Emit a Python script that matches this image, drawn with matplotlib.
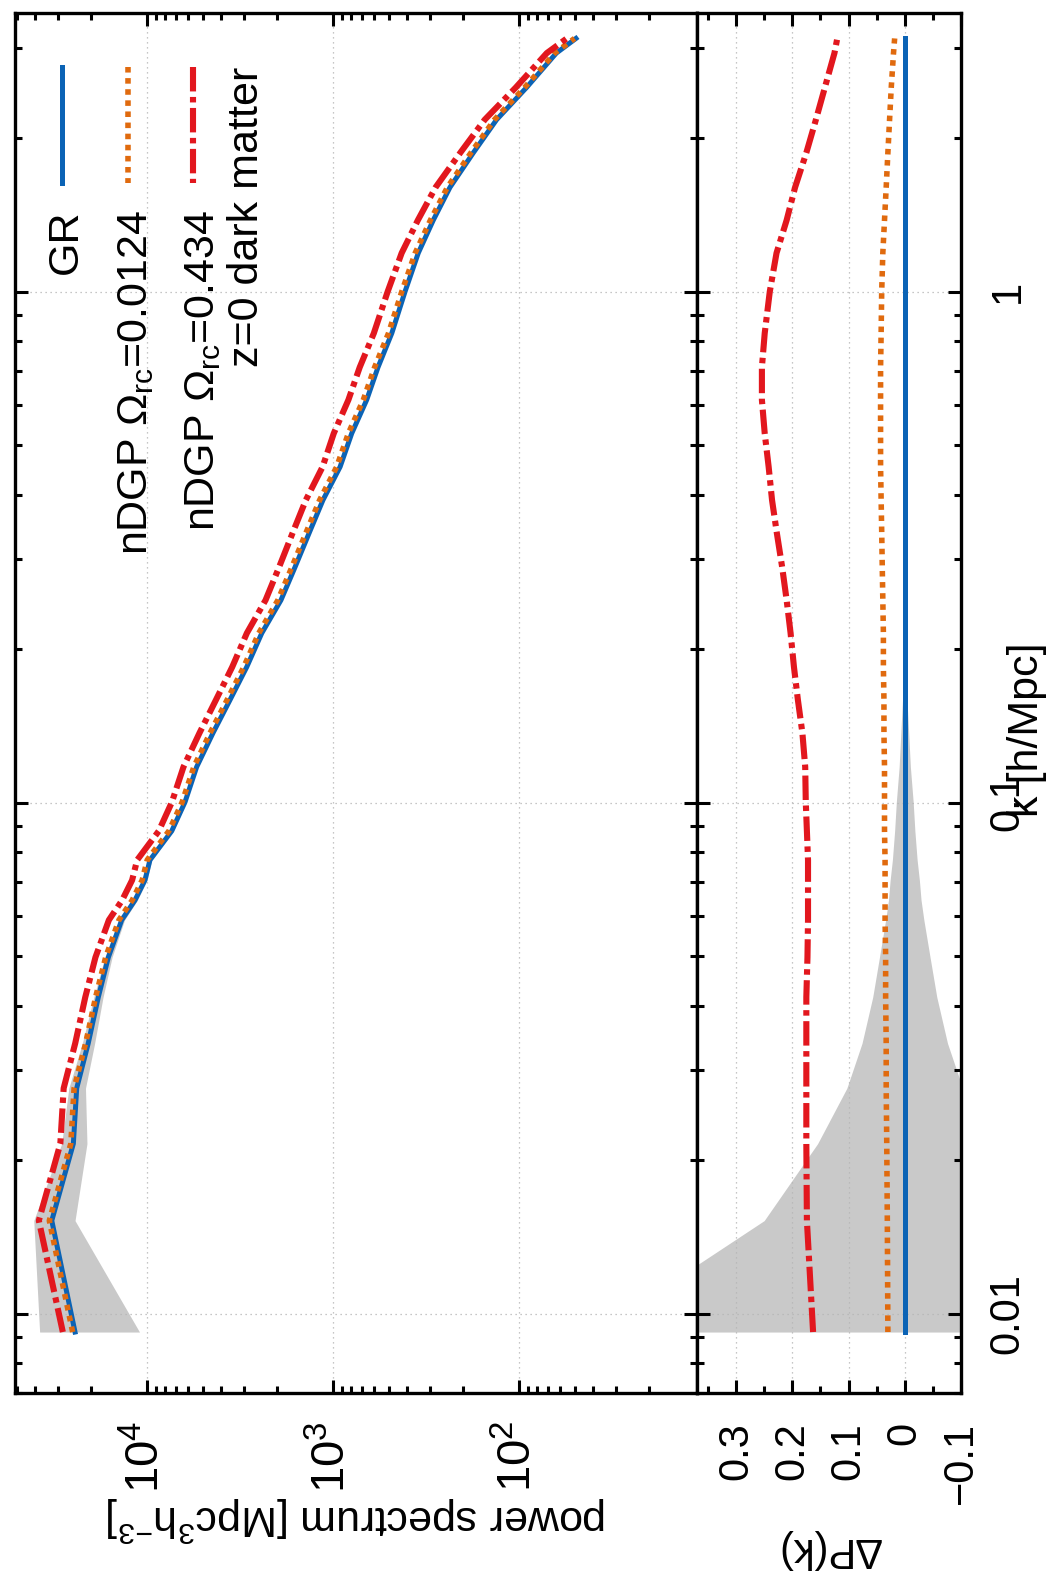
import matplotlib
matplotlib.use('Agg')
import matplotlib.pyplot as plt
from matplotlib.lines import Line2D
from matplotlib.ticker import LogLocator, MultipleLocator, NullFormatter, FuncFormatter, FixedLocator

plt.rcParams['font.family'] = ['Liberation Sans', 'DejaVu Sans']
plt.rcParams['mathtext.fontset'] = 'custom'
plt.rcParams['mathtext.rm'] = 'Liberation Sans'
plt.rcParams['mathtext.it'] = 'Liberation Sans:italic'
plt.rcParams['mathtext.bf'] = 'Liberation Sans:bold'

# k [h/Mpc]
k = [0.0092, 0.0152, 0.0215, 0.0276, 0.0338, 0.0416, 0.0498, 0.0589, 0.0644,
     0.0705, 0.0772, 0.0880, 0.1002, 0.1174, 0.1368, 0.1588, 0.1842, 0.2146,
     0.249, 0.289, 0.340, 0.391, 0.454, 0.528, 0.614, 0.711, 0.829, 1.00,
     1.19, 1.38, 1.60, 1.87, 2.17, 2.51, 2.93, 3.13]
# GR power spectrum
p_gr = [24380, 32510, 24890, 23880, 20700, 18280, 16140, 13680, 11610,
        10260, 9640, 7360, 6250, 5410, 4420, 3580, 2910, 2415,
        1905, 1600, 1330, 1132, 916, 793, 659, 573, 483, 410,
        348, 289, 235, 176, 132, 91, 63, 49.4]
# relative difference to GR
dp_weak = [0.030, 0.031, 0.032, 0.033, 0.033, 0.034, 0.034, 0.035, 0.035,
           0.035, 0.035, 0.036, 0.036, 0.036, 0.037, 0.037, 0.038, 0.038,
           0.039, 0.040, 0.041, 0.042, 0.043, 0.043, 0.043, 0.043, 0.042, 0.041,
           0.039, 0.036, 0.033, 0.030, 0.027, 0.024, 0.020, 0.018]
dp_strong = [0.163, 0.174, 0.175, 0.175, 0.175, 0.175, 0.173, 0.172, 0.172,
             0.172, 0.172, 0.174, 0.176, 0.177, 0.182, 0.190, 0.197, 0.203,
             0.210, 0.218, 0.228, 0.236, 0.242, 0.249, 0.254, 0.254, 0.249, 0.240,
             0.228, 0.210, 0.195, 0.175, 0.158, 0.142, 0.125, 0.120]
dp_gr = [0.0] * len(k)
# cosmic variance (relative)
sigma = [0.55, 0.25, 0.155, 0.103, 0.076, 0.057, 0.045, 0.034, 0.029,
         0.026, 0.022, 0.018, 0.015, 0.010, 0.007, 0.004, 0.002, 0.0,
         0, 0, 0, 0, 0, 0, 0, 0, 0, 0,
         0, 0, 0, 0, 0, 0, 0, 0]
dp_ticks = [0.3, 0.2, 0.1, 0.0, -0.1]

p_weak = [p * (1 + d) for p, d in zip(p_gr, dp_weak)]
p_strong = [p * (1 + d) for p, d in zip(p_gr, dp_strong)]
band_lo = [p * (1 - s) for p, s in zip(p_gr, sigma)]
band_hi = [p * (1 + s) for p, s in zip(p_gr, sigma)]
sig_neg = [-s for s in sigma]

C_GR = '#0b63b5'
C_W = '#e06a0e'
C_S = '#e2171e'
C_BAND = '#c9c9c9'
st_gr = dict(color=C_GR, lw=3.6, ls='-')
st_w = dict(color=C_W, lw=4.0, ls=(0, (1.0, 1.0)))
st_s = dict(color=C_S, lw=4.4, ls=(0, (4.0, 0.9, 0.9, 0.9)))

W, H = 1050, 1573
fig = plt.figure(figsize=(W / 100, H / 100), dpi=100)


def fx(px):
    return px / W


def fy(py):
    return 1 - py / H


ax_p = fig.add_axes([fx(15), fy(1393), fx(697) - fx(15), fy(13) - fy(1393)])
ax_r = fig.add_axes([fx(697), fy(1393), fx(961) - fx(697), fy(13) - fy(1393)], sharey=ax_p)

# power spectrum panel (rotated: k on vertical axis)
ax_p.fill_betweenx(k, band_lo, band_hi, color=C_BAND, lw=0, zorder=1)
ax_p.plot(p_gr, k, **st_gr, zorder=3)
ax_p.plot(p_weak, k, **st_w, zorder=4)
ax_p.plot(p_strong, k, **st_s, zorder=5)
ax_p.set_xscale('log')
ax_p.set_yscale('log')
ax_p.set_xlim(51260, 11.04)
ax_p.set_ylim(0.00699, 3.51)

# relative difference panel
ax_r.fill_betweenx(k, sig_neg, sigma, color=C_BAND, lw=0, zorder=1)
ax_r.plot(dp_gr, k, **st_gr, zorder=3)
ax_r.plot(dp_weak, k, **st_w, zorder=4)
ax_r.plot(dp_strong, k, **st_s, zorder=5)
ax_r.set_xlim(0.3694, -0.1)

ax_p.xaxis.set_major_locator(LogLocator(base=10))
ax_p.xaxis.set_minor_locator(LogLocator(base=10, subs=range(2, 10)))
ax_p.xaxis.set_minor_formatter(NullFormatter())
ax_p.yaxis.set_major_locator(LogLocator(base=10))
ax_p.yaxis.set_minor_locator(LogLocator(base=10, subs=range(2, 10)))
ax_p.yaxis.set_minor_formatter(NullFormatter())
ax_p.yaxis.set_major_formatter(FuncFormatter(lambda v, _: f'{v:g}'))

ax_r.xaxis.set_major_locator(FixedLocator(dp_ticks))
ax_r.xaxis.set_minor_locator(MultipleLocator(0.05))
ax_r.xaxis.set_major_formatter(FuncFormatter(
    lambda v, _: '0' if abs(v) < 1e-9 else f'{v:.1f}'.replace('-', '\u2212')))

for ax in (ax_p, ax_r):
    ax.set_axisbelow('line')
    ax.grid(True, which='major', color='#b4b4b4', ls=(0, (1, 3)), lw=0.9)
    for sp in ax.spines.values():
        sp.set_linewidth(2.4)
    ax.tick_params(which='both', direction='in', top=True, bottom=True,
                   left=True, right=True, width=2.2, colors='black')
    ax.tick_params(which='major', length=9.6)
    ax.tick_params(which='minor', length=4.8)
    ax.tick_params(axis='x', labelrotation=90, labelsize=30, pad=21)

ax_p.tick_params(axis='x', labelsize=34, pad=20)
ax_p.tick_params(axis='y', labelleft=False, labelright=False)
ax_r.tick_params(axis='y', labelleft=False, labelright=True, labelrotation=90,
                 labelsize=30, pad=19)
for lbl in ax_r.get_yticklabels():
    lbl.set_va('center')

# axis labels
fig.text(fx(357), fy(1519), 'power spectrum [Mpc$^3$h$^{-3}$]', rotation=180,
         ha='center', va='center', fontsize=31)
fig.text(fx(829), fy(1549), '\u0394P(k)', rotation=180,
         ha='center', va='center', fontsize=30)
fig.text(fx(1038), fy(730), 'k [h/Mpc]', rotation=90, rotation_mode='anchor',
         ha='center', va='baseline', fontsize=31)

# legend, drawn in the rotated frame
entries = [('GR', st_gr, 62, 77),
           (r'nDGP $\Omega_{\mathrm{rc}}$=0.0124', st_w, 128, 147),
           (r'nDGP $\Omega_{\mathrm{rc}}$=0.434', st_s, 193, 214)]
for label, st, xl, xb in entries:
    fig.add_artist(Line2D([fx(xl), fx(xl)], [fy(67), fy(183)],
                          transform=fig.transFigure, **st))
    fig.text(fx(xb), fy(210), label, rotation=90, rotation_mode='anchor',
             ha='right', va='baseline', fontsize=31)
fig.text(fx(258), fy(67), 'z=0 dark matter', rotation=90, rotation_mode='anchor',
         ha='right', va='baseline', fontsize=31)

fig.savefig('out.png', dpi=100)
